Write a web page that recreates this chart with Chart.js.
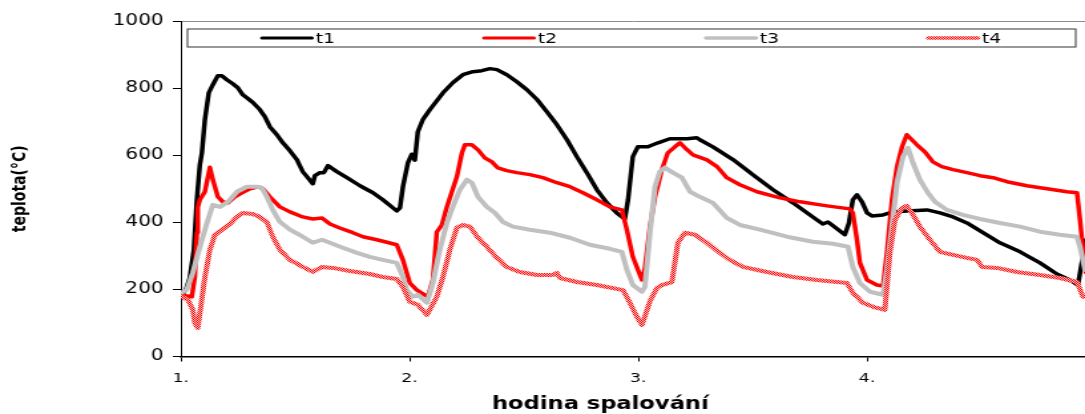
<!DOCTYPE html>
<html lang="cs">
<head>
<meta charset="utf-8">
<title>teplota</title>
<script src="https://cdn.jsdelivr.net/npm/chart.js@4.4.0/dist/chart.umd.min.js"></script>
<style>
  html, body { margin: 0; padding: 0; background: #fff; overflow: hidden; }
</style>
</head>
<body>
<!-- drawn narrow and stretched sideways, like the original export -->
<canvas id="chart" width="816" height="414" style="width:1085px;height:414px"></canvas>
<script>
// Axis ticks
const hourTicks = [1, 2, 3, 4];
const tempTicks = [0, 200, 400, 600, 800, 1000];

// t1 (black)
const t1Hours = [1.000, 1.022, 1.039, 1.057, 1.070, 1.083, 1.092, 1.105, 1.122, 1.140, 1.162, 1.179, 1.201, 1.227, 1.249, 1.271, 1.293, 1.315, 1.345, 1.367, 1.389, 1.420, 1.446, 1.477, 1.507, 1.533, 1.555, 1.577, 1.586, 1.608, 1.625, 1.643, 1.682, 1.726, 1.783, 1.840, 1.883, 1.944, 1.958, 1.971, 1.993, 2.010, 2.023, 2.036, 2.058, 2.089, 2.146, 2.189, 2.233, 2.277, 2.316, 2.351, 2.382, 2.425, 2.469, 2.513, 2.557, 2.600, 2.644, 2.688, 2.732, 2.775, 2.819, 2.863, 2.906, 2.941, 2.955, 2.976, 2.998, 3.042, 3.086, 3.138, 3.213, 3.256, 3.269, 3.326, 3.414, 3.501, 3.589, 3.676, 3.763, 3.807, 3.829, 3.847, 3.903, 3.921, 3.938, 3.956, 3.978, 4.000, 4.021, 4.070, 4.113, 4.174, 4.262, 4.319, 4.376, 4.437, 4.507, 4.581, 4.669, 4.756, 4.830, 4.887, 4.922, 4.931, 4.944, 4.957];
const t1Temp  = [180, 199, 234, 318, 467, 571, 607, 706, 786, 810, 837, 837, 825, 813, 801, 780, 769, 757, 736, 715, 685, 661, 637, 613, 587, 551, 533, 515, 539, 548, 548, 569, 551, 533, 509, 488, 467, 434, 443, 506, 578, 603, 585, 670, 706, 736, 786, 816, 840, 849, 852, 858, 855, 840, 819, 795, 766, 730, 691, 646, 595, 548, 497, 458, 428, 410, 467, 596, 625, 625, 637, 649, 649, 652, 646, 625, 587, 542, 497, 458, 416, 395, 401, 392, 363, 398, 467, 482, 461, 428, 419, 422, 431, 434, 437, 428, 416, 398, 369, 339, 312, 279, 246, 228, 213, 249, 300, 348];

// t2 (red)
const t2Hours = [1.004, 1.048, 1.061, 1.070, 1.074, 1.083, 1.105, 1.127, 1.140, 1.162, 1.184, 1.206, 1.236, 1.267, 1.302, 1.337, 1.359, 1.389, 1.433, 1.477, 1.533, 1.577, 1.617, 1.652, 1.695, 1.752, 1.796, 1.857, 1.944, 1.971, 2.001, 2.032, 2.080, 2.102, 2.119, 2.141, 2.163, 2.185, 2.207, 2.229, 2.242, 2.272, 2.299, 2.329, 2.360, 2.386, 2.425, 2.469, 2.526, 2.583, 2.644, 2.701, 2.758, 2.819, 2.876, 2.928, 2.950, 2.976, 3.016, 3.029, 3.051, 3.073, 3.103, 3.129, 3.160, 3.182, 3.204, 3.239, 3.300, 3.344, 3.387, 3.444, 3.519, 3.619, 3.707, 3.825, 3.925, 3.938, 3.956, 3.969, 4.000, 4.043, 4.070, 4.087, 4.109, 4.131, 4.153, 4.174, 4.196, 4.218, 4.253, 4.288, 4.327, 4.376, 4.437, 4.494, 4.551, 4.612, 4.699, 4.787, 4.874, 4.918, 4.931, 4.944, 4.957];
const t2Temp  = [183, 178, 237, 369, 445, 467, 491, 564, 527, 476, 461, 458, 476, 488, 500, 506, 500, 476, 446, 431, 416, 410, 413, 395, 383, 369, 357, 348, 333, 288, 219, 198, 178, 228, 371, 392, 446, 491, 536, 607, 631, 631, 616, 592, 580, 562, 554, 548, 542, 533, 518, 506, 488, 467, 446, 437, 377, 297, 228, 264, 387, 476, 557, 607, 625, 637, 622, 601, 586, 566, 533, 512, 491, 473, 461, 449, 440, 428, 348, 279, 228, 213, 210, 309, 467, 566, 625, 661, 646, 631, 610, 580, 566, 557, 548, 539, 533, 521, 509, 500, 491, 488, 407, 320, 250];

// t3 (grey)
const t3Hours = [1.004, 1.026, 1.052, 1.083, 1.114, 1.140, 1.171, 1.206, 1.245, 1.289, 1.332, 1.354, 1.376, 1.402, 1.433, 1.477, 1.533, 1.577, 1.617, 1.652, 1.708, 1.770, 1.826, 1.883, 1.944, 1.971, 1.988, 2.014, 2.036, 2.076, 2.102, 2.132, 2.163, 2.189, 2.220, 2.251, 2.272, 2.299, 2.338, 2.373, 2.408, 2.452, 2.526, 2.613, 2.701, 2.788, 2.876, 2.928, 2.950, 2.976, 3.016, 3.029, 3.051, 3.073, 3.094, 3.116, 3.151, 3.191, 3.226, 3.269, 3.326, 3.387, 3.444, 3.532, 3.650, 3.763, 3.851, 3.917, 3.938, 3.969, 4.013, 4.070, 4.087, 4.109, 4.131, 4.157, 4.179, 4.201, 4.231, 4.266, 4.297, 4.349, 4.419, 4.494, 4.581, 4.669, 4.756, 4.843, 4.918, 4.931, 4.953];
const t3Temp  = [190, 199, 249, 327, 398, 452, 446, 461, 491, 506, 506, 503, 476, 437, 401, 378, 357, 339, 348, 339, 324, 309, 297, 288, 279, 237, 198, 178, 184, 160, 219, 318, 398, 446, 497, 527, 518, 476, 446, 428, 401, 387, 378, 369, 354, 333, 321, 312, 258, 213, 193, 208, 369, 506, 551, 563, 548, 533, 491, 476, 458, 413, 392, 378, 357, 342, 336, 327, 267, 219, 193, 184, 258, 387, 518, 595, 622, 577, 527, 488, 461, 437, 422, 410, 398, 387, 372, 363, 357, 327, 258];

// t4 (red pattern)
const t4Hours = [1.004, 1.031, 1.052, 1.061, 1.074, 1.087, 1.105, 1.127, 1.149, 1.184, 1.214, 1.245, 1.271, 1.315, 1.345, 1.376, 1.402, 1.433, 1.477, 1.533, 1.577, 1.617, 1.665, 1.739, 1.826, 1.883, 1.944, 1.971, 2.001, 2.036, 2.076, 2.119, 2.146, 2.176, 2.207, 2.233, 2.264, 2.299, 2.338, 2.382, 2.425, 2.482, 2.557, 2.627, 2.644, 2.657, 2.732, 2.819, 2.933, 2.963, 2.994, 3.016, 3.051, 3.081, 3.103, 3.147, 3.173, 3.204, 3.248, 3.300, 3.357, 3.400, 3.457, 3.562, 3.676, 3.781, 3.912, 3.938, 3.982, 4.026, 4.078, 4.100, 4.122, 4.153, 4.174, 4.196, 4.231, 4.275, 4.319, 4.376, 4.437, 4.481, 4.503, 4.568, 4.655, 4.756, 4.843, 4.918, 4.944];
const t4Temp  = [178, 169, 140, 100, 85, 148, 237, 318, 363, 380, 395, 416, 428, 425, 416, 401, 357, 318, 288, 267, 252, 267, 264, 255, 246, 237, 231, 207, 163, 154, 124, 178, 237, 318, 384, 392, 387, 354, 327, 294, 267, 252, 243, 243, 249, 234, 222, 213, 198, 160, 118, 94, 165, 204, 213, 222, 339, 369, 363, 339, 309, 288, 267, 252, 237, 228, 219, 190, 160, 148, 139, 309, 407, 443, 449, 428, 387, 348, 312, 303, 294, 288, 267, 264, 252, 243, 234, 222, 178];

const FONT = '"DejaVu Sans", Verdana, sans-serif';
const xTitle = 'hodina spalování';
const yTitle = 'teplota(°C)';

/**
 * Builds a 2x2 checker pattern, used for the dotted red t4 line.
 */
function checkerPattern(ctx, ink, paper) {
  const c = document.createElement('canvas');
  c.width = 2;
  c.height = 2;
  const g = c.getContext('2d');
  g.fillStyle = paper;
  g.fillRect(0, 0, 2, 2);
  g.fillStyle = ink;
  g.fillRect(0, 0, 1, 1);
  g.fillRect(1, 1, 1, 1);
  return ctx.createPattern(c, 'repeat');
}

/**
 * Pairs an hour array with a value array into {x, y} points.
 */
function toPoints(hours, temps) {
  return hours.map((h, i) => ({ x: h, y: temps[i] }));
}

/**
 * Boxed one-row legend inside the plot plus the bottom axis title.
 */
const boxLegend = {
  id: 'boxLegend',
  afterDraw(chart) {
    const { ctx, chartArea } = chart;
    const left = chartArea.left + 5;
    const right = chartArea.right - 7;
    const top = chartArea.top + 8;
    const bottom = chartArea.top + 26;
    const midY = (top + bottom) / 2;
    const slot = (right - left) / chart.data.datasets.length;

    ctx.save();
    ctx.strokeStyle = '#333';
    ctx.lineWidth = 1;
    ctx.strokeRect(left, top, right - left, bottom - top);

    ctx.font = '14px ' + FONT;
    ctx.textBaseline = 'middle';
    ctx.textAlign = 'left';
    chart.data.datasets.forEach((ds, i) => {
      const lineLen = 37.5;
      const gap = 3;
      const textW = ctx.measureText(ds.label).width;
      const x0 = left + slot * (i + 0.5) - (lineLen + gap + textW) / 2;
      ctx.strokeStyle = ds.borderColor;
      ctx.lineWidth = ds.borderWidth - 0.5;
      ctx.lineCap = 'round';
      ctx.beginPath();
      ctx.moveTo(x0, midY);
      ctx.lineTo(x0 + lineLen, midY);
      ctx.stroke();
      ctx.fillStyle = '#000';
      ctx.fillText(ds.label, x0 + lineLen + gap, midY + 1);
    });

    // x axis title sits a little left of the plot centre in the original
    ctx.font = 'bold 17px ' + FONT;
    ctx.textAlign = 'center';
    ctx.fillText(xTitle, chartArea.left + (chartArea.right - chartArea.left) * 0.464, chart.height - 9);
    ctx.restore();
  }
};

const canvas = document.getElementById('chart');
const t4Stroke = checkerPattern(canvas.getContext('2d'), '#ff0000', '#ffc4c4');

new Chart(canvas, {
  type: 'line',
  data: {
    datasets: [
      { label: 't1', data: toPoints(t1Hours, t1Temp), borderColor: '#000000', borderWidth: 3.5, order: 4 },
      { label: 't2', data: toPoints(t2Hours, t2Temp), borderColor: '#ff0000', borderWidth: 3.5, order: 3 },
      { label: 't3', data: toPoints(t3Hours, t3Temp), borderColor: '#c0c0c0', borderWidth: 4, order: 2 },
      { label: 't4', data: toPoints(t4Hours, t4Temp), borderColor: t4Stroke, borderWidth: 4, order: 1 }
    ]
  },
  options: {
    responsive: false,
    animation: false,
    devicePixelRatio: 1,
    layout: { padding: { top: 21, right: 0, bottom: 0, left: 0 } },
    plugins: { legend: { display: false }, tooltip: { enabled: false } },
    elements: {
      point: { radius: 0 },
      line: { tension: 0, fill: false, borderJoinStyle: 'round', borderCapStyle: 'round' }
    },
    scales: {
      x: {
        type: 'linear',
        min: 1,
        max: 4.953,
        afterBuildTicks: s => { s.ticks = hourTicks.map(v => ({ value: v })); },
        afterFit: s => { s.height = 57.5; },
        border: { color: '#000', width: 1.5 },
        grid: { drawOnChartArea: false, drawTicks: true, tickLength: 5, tickColor: '#000' },
        ticks: { color: '#000', font: { family: FONT, size: 13 }, padding: 9, maxRotation: 0, callback: v => v + '.' }
      },
      y: {
        min: 0,
        max: 1000,
        afterBuildTicks: s => { s.ticks = tempTicks.map(v => ({ value: v })); },
        afterFit: s => { s.width = 136; },
        border: { color: '#000', width: 1 },
        grid: {
          color: c => (c.tick && c.tick.value === 1000 ? '#8c8c8c' : 'rgba(0,0,0,0)'),
          drawTicks: true,
          tickLength: 6,
          tickColor: '#000'
        },
        ticks: { color: '#000', font: { family: FONT, size: 15 }, padding: 7, callback: v => String(v) },
        title: { display: true, text: yTitle, color: '#000', font: { family: FONT, size: 14, weight: 'bold' }, padding: { top: 7 } }
      }
    }
  },
  plugins: [boxLegend]
});
</script>
</body>
</html>
